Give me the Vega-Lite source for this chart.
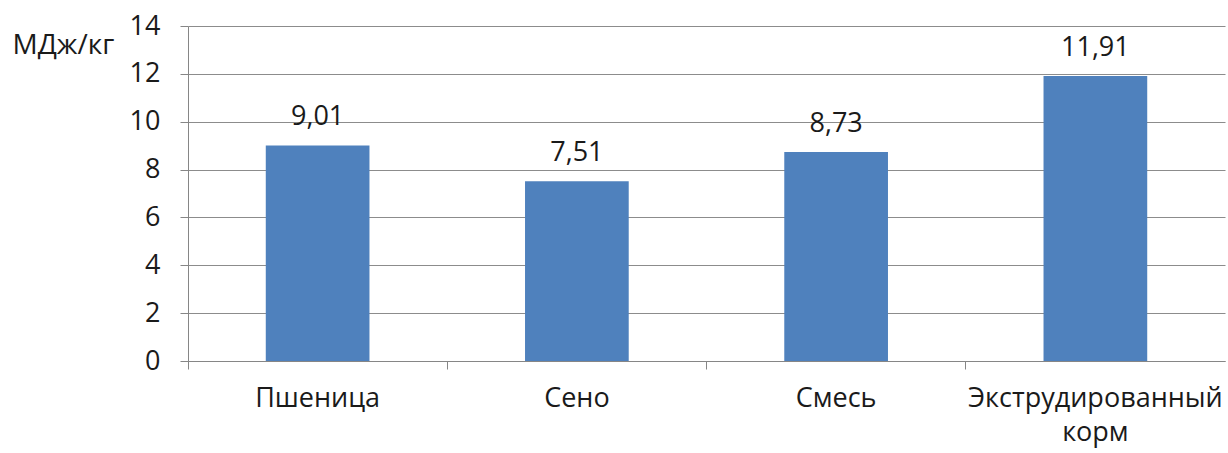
{
  "$schema": "https://vega.github.io/schema/vega-lite/v6.json",
  "autosize": "none",
  "width": 1037,
  "height": 335,
  "padding": {"left": 188, "top": 26, "right": 3, "bottom": 92},
  "background": "white",
  "config": {
    "locale": {"number": {"decimal": ",", "thousands": " ", "grouping": [3], "currency": ["", ""]}},
    "view": {"stroke": null},
    "font": "Open Sans"
  },
  "data": {
    "values": [
      {"category": "Пшеница", "value": 9.01},
      {"category": "Сено", "value": 7.51},
      {"category": "Смесь", "value": 8.73},
      {"category": "Экструдированный корм", "value": 11.91}
    ]
  },
  "encoding": {
    "x": {
      "field": "category",
      "type": "nominal",
      "sort": null,
      "scale": {"paddingInner": 0, "paddingOuter": 0},
      "axis": {
        "title": null,
        "labelAngle": 0,
        "bandPosition": 0,
        "labelExpr": "split(datum.label, ' ')",
        "labelFont": "Open Sans",
        "labelFontSize": 27,
        "labelColor": "#1a1a1a",
        "labelPadding": 16,
        "labelLineHeight": 34,
        "labelLimit": 500,
        "domainColor": "#868686",
        "tickColor": "#868686",
        "tickSize": 8,
        "grid": false
      }
    },
    "y": {
      "field": "value",
      "type": "quantitative",
      "scale": {"domain": [0, 14], "nice": false},
      "axis": {
        "values": [0, 2, 4, 6, 8, 10, 12, 14],
        "format": "d",
        "title": "МДж/кг",
        "titleAngle": 0,
        "titleAlign": "left",
        "titleBaseline": "middle",
        "titleX": -176,
        "titleY": 19,
        "titleFont": "Open Sans",
        "titleFontSize": 28,
        "titleFontWeight": "normal",
        "titleColor": "#1a1a1a",
        "labelFont": "Open Sans",
        "labelFontSize": 27,
        "labelColor": "#1a1a1a",
        "labelPadding": 20,
        "tickSize": 8,
        "tickColor": "#868686",
        "domainColor": "#868686",
        "gridColor": "#8c8c8c",
        "gridWidth": 1.2
      }
    }
  },
  "layer": [
    {
      "mark": {"type": "bar", "color": "#4F81BD", "width": {"band": 0.4}}
    },
    {
      "mark": {"type": "text", "baseline": "alphabetic", "dy": -20, "fontSize": 27, "font": "Open Sans", "color": "#1a1a1a"},
      "encoding": {
        "text": {"field": "value", "type": "quantitative", "format": ".2f"}
      }
    }
  ]
}
